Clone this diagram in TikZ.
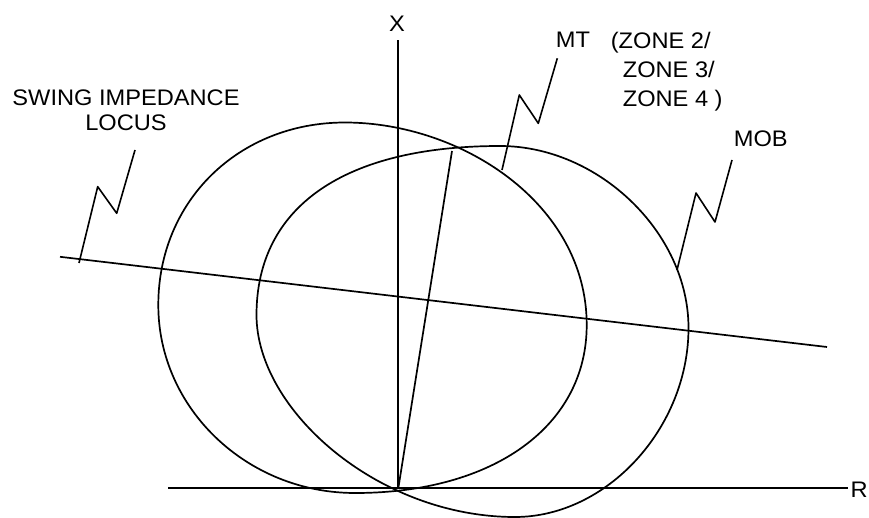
\documentclass[tikz,border=0pt]{standalone}
\usepackage{fontspec}
\setmainfont[FakeStretch=1.05]{Liberation Sans}
\begin{document}
\begin{tikzpicture}[x=1pt,y=-1pt,line width=1.7pt,line join=round,
  lbl/.style={inner sep=0pt,font=\fontsize{22.5}{27}\selectfont},
  curve/.style={line width=1.7pt},
  leader/.style={line width=1.6pt}]
\useasboundingbox (0,0) rectangle (869,518);

% axes
\coordinate (O) at (398.3,488.3);
\coordinate (Xtop) at (398.3,40);
\coordinate (Rleft) at (168,488.3);
\coordinate (Rright) at (848,488.3);
\draw (O) -- (Xtop);
\draw (Rleft) -- (Rright);
\node[lbl,anchor=base] (xlab) at (397,32) {X};
\node[lbl,anchor=base east] (rlab) at (868.5,497) {R};

% left circle (MT)
\coordinate (lL) at (158.3,305);
\coordinate (lT) at (345,122.5);
\coordinate (lR) at (586.7,325);
\coordinate (lB) at (355,493);
\draw[curve] (lL) .. controls (158.3,201) and (238.6,122.5) .. (lT)
  .. controls (461,122.5) and (586.7,203.5) .. (lR)
  .. controls (586.7,425.8) and (494,493) .. (lB)
  .. controls (246.8,493) and (158.3,408.4) .. (lL) -- cycle;

% right circle (MOB)
\coordinate (rL) at (256.5,315);
\coordinate (rT) at (500,146);
\coordinate (rR) at (688.5,328);
\coordinate (rB) at (515,517);
\draw[curve] (rL) .. controls (256.5,206.8) and (344.2,146) .. (rT)
  .. controls (598.6,146) and (688.5,232.8) .. (rR)
  .. controls (688.5,428) and (606.8,517) .. (rB)
  .. controls (378,517) and (256.5,409.9) .. (rL) -- cycle;

% diameter line of MT
\coordinate (Dtop) at (452,151);
\draw (O) -- (Dtop);

% swing impedance locus
\coordinate (Sa) at (60,256.8);
\coordinate (Sb) at (827,347);
\draw (Sa) -- (Sb);

% labels
\node[lbl,anchor=base] (swing) at (126,106) {SWING IMPEDANCE};
\node[lbl,anchor=base] (locus) at (126,131) {LOCUS};
\node[lbl,anchor=base west] (mt) at (555,48) {MT};
\node[lbl,anchor=base west] (z2) at (610,49) {(ZONE 2/};
\node[lbl,anchor=base west] (z3) at (622,78) {ZONE 3/};
\node[lbl,anchor=base west] (z4) at (622,107) {ZONE 4 )};
\node[lbl,anchor=base west] (mob) at (733,147) {MOB};

% zig-zag leaders
\coordinate (s1) at (79,263);
\coordinate (s2) at (97.7,186.7);
\coordinate (s3) at (116.7,213.3);
\coordinate (s4) at (135,150);
\draw[leader] (s1) -- (s2) -- (s3) -- (s4);

\coordinate (m1) at (502,170);
\coordinate (m2) at (519.3,95);
\coordinate (m3) at (538.3,123.3);
\coordinate (m4) at (557.3,58.3);
\draw[leader] (m1) -- (m2) -- (m3) -- (m4);

\coordinate (b1) at (677,270);
\coordinate (b2) at (696,193);
\coordinate (b3) at (715,222);
\coordinate (b4) at (732,160);
\draw[leader] (b1) -- (b2) -- (b3) -- (b4);
\end{tikzpicture}
\end{document}
